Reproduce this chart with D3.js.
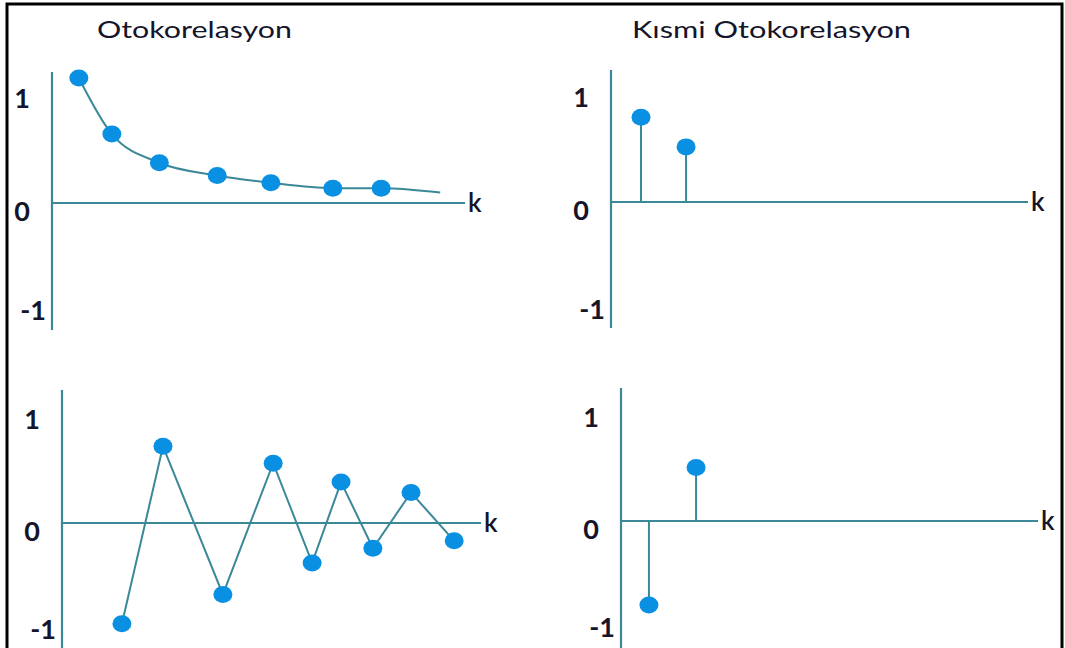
<!DOCTYPE html>
<html>
<head>
<meta charset="utf-8">
<script src="https://cdn.jsdelivr.net/npm/d3@7"></script>
<style>
  html, body { margin: 0; padding: 0; background: #fff; }
  svg { display: block; }
  text { font-family: Lato, "Open Sans", sans-serif; fill: #14142a; }
</style>
</head>
<body>
<svg id="chart" width="1065" height="648"></svg>
<script>
// ---- data (schematic lags and correlation values) ----
const titles = ["Otokorelasyon", "Kısmi Otokorelasyon"];
const yTickLabels = ["1", "0", "-1"];
const yTickValues = [1, 0, -1];
const axisLabel = "k";

// Top-left: ACF, exponential decay
const acfDecayLag   = [0.65, 1.45, 2.6, 4.0, 5.3, 6.8, 7.97];
const acfDecayValue = [1.18, 0.65, 0.38, 0.26, 0.19, 0.14, 0.14];
const acfDecayTailLag = 9.4;
const acfDecayTailValue = 0.10;

// Top-right: PACF, two positive spikes
const pacfPosLag   = [0.72, 1.8];
const pacfPosValue = [0.80, 0.52];

// Bottom-left: ACF, damped oscillation
const acfOscLag   = [1.43, 2.41, 3.84, 5.04, 5.97, 6.66, 7.42, 8.33, 9.36];
const acfOscValue = [-0.96, 0.73, -0.68, 0.57, -0.38, 0.39, -0.24, 0.29, -0.17];

// Bottom-right: PACF, one negative then one positive spike
const pacfMixLag   = [0.67, 1.8];
const pacfMixValue = [-0.80, 0.51];

// ---- layout ----
const lineColor = "#3b8898";
const dotColor = "#0a90e2";
const svg = d3.select("#chart");

// outer frame
svg.append("rect")
  .attr("x", 7).attr("y", 4).attr("width", 1055).attr("height", 700)
  .attr("fill", "none").attr("stroke", "#000").attr("stroke-width", 3);

const panels = [
  { ox: 52,  axTop: 72,  axBot: 330, xEnd: 465,  y1: 97,  yM1: 309 },
  { ox: 611, axTop: 70,  axBot: 328, xEnd: 1028, y1: 96,  yM1: 308 },
  { ox: 62,  axTop: 390, axBot: 650, xEnd: 481,  y1: 418, yM1: 628 },
  { ox: 621, axTop: 388, axBot: 650, xEnd: 1038, y1: 416, yM1: 626 }
];

panels.forEach(p => {
  p.x = d3.scaleLinear().domain([0, 10]).range([p.ox, p.xEnd]);
  p.y = d3.scaleLinear().domain([-1, 1]).range([p.yM1, p.y1]);
  const g = svg.append("g");
  p.g = g;
  // axes
  g.append("line")
    .attr("x1", p.ox).attr("x2", p.ox).attr("y1", p.axTop).attr("y2", p.axBot)
    .attr("stroke", lineColor).attr("stroke-width", 2.2);
  g.append("line")
    .attr("x1", p.ox).attr("x2", p.xEnd).attr("y1", p.y(0)).attr("y2", p.y(0))
    .attr("stroke", lineColor).attr("stroke-width", 2.2);
  // k label
  g.append("text").text(axisLabel)
    .attr("x", p.xEnd + 3).attr("y", p.y(0) + 9)
    .attr("font-size", 26).attr("font-weight", 600);
  // y labels
  yTickValues.forEach((v, i) => {
    const t = g.append("text").text(yTickLabels[i])
      .attr("font-size", 27).attr("font-weight", 700)
      .attr("dominant-baseline", "central");
    if (v < 0) {
      t.attr("text-anchor", "end").attr("x", p.ox - 6).attr("y", p.y(v));
    } else {
      t.attr("text-anchor", "middle").attr("x", p.ox - 30).attr("y", p.y(v) + (v === 0 ? 7 : 0));
    }
  });
});

// titles
svg.append("text").text(titles[0])
  .attr("x", 97).attr("y", 38).attr("font-size", 24).attr("font-weight", 400)
  .attr("textLength", 195).attr("lengthAdjust", "spacingAndGlyphs");
svg.append("text").text(titles[1])
  .attr("x", 632).attr("y", 38).attr("font-size", 24).attr("font-weight", 400)
  .attr("textLength", 279).attr("lengthAdjust", "spacingAndGlyphs");

function dots(p, lags, vals) {
  p.g.selectAll(null).data(lags).enter().append("ellipse")
    .attr("cx", d => p.x(d))
    .attr("cy", (d, i) => p.y(vals[i]))
    .attr("rx", 9.5).attr("ry", 8.5)
    .attr("fill", dotColor);
}

function stems(p, lags, vals) {
  p.g.selectAll(null).data(lags).enter().append("line")
    .attr("x1", d => p.x(d)).attr("x2", d => p.x(d))
    .attr("y1", p.y(0)).attr("y2", (d, i) => p.y(vals[i]))
    .attr("stroke", lineColor).attr("stroke-width", 2);
  dots(p, lags, vals);
}

// Panel 1: smooth decay curve
{
  const p = panels[0];
  const pts = acfDecayLag.map((d, i) => [d, acfDecayValue[i]]).concat([[acfDecayTailLag, acfDecayTailValue]]);
  const line = d3.line().x(d => p.x(d[0])).y(d => p.y(d[1])).curve(d3.curveMonotoneX);
  p.g.append("path").datum(pts).attr("d", line)
    .attr("fill", "none").attr("stroke", lineColor).attr("stroke-width", 2);
  dots(p, acfDecayLag, acfDecayValue);
}

// Panel 2
stems(panels[1], pacfPosLag, pacfPosValue);

// Panel 3: zig-zag
{
  const p = panels[2];
  const pts = acfOscLag.map((d, i) => [d, acfOscValue[i]]);
  const line = d3.line().x(d => p.x(d[0])).y(d => p.y(d[1]));
  p.g.append("path").datum(pts).attr("d", line)
    .attr("fill", "none").attr("stroke", lineColor).attr("stroke-width", 2);
  dots(p, acfOscLag, acfOscValue);
}

// Panel 4
stems(panels[3], pacfMixLag, pacfMixValue);
</script>
</body>
</html>
